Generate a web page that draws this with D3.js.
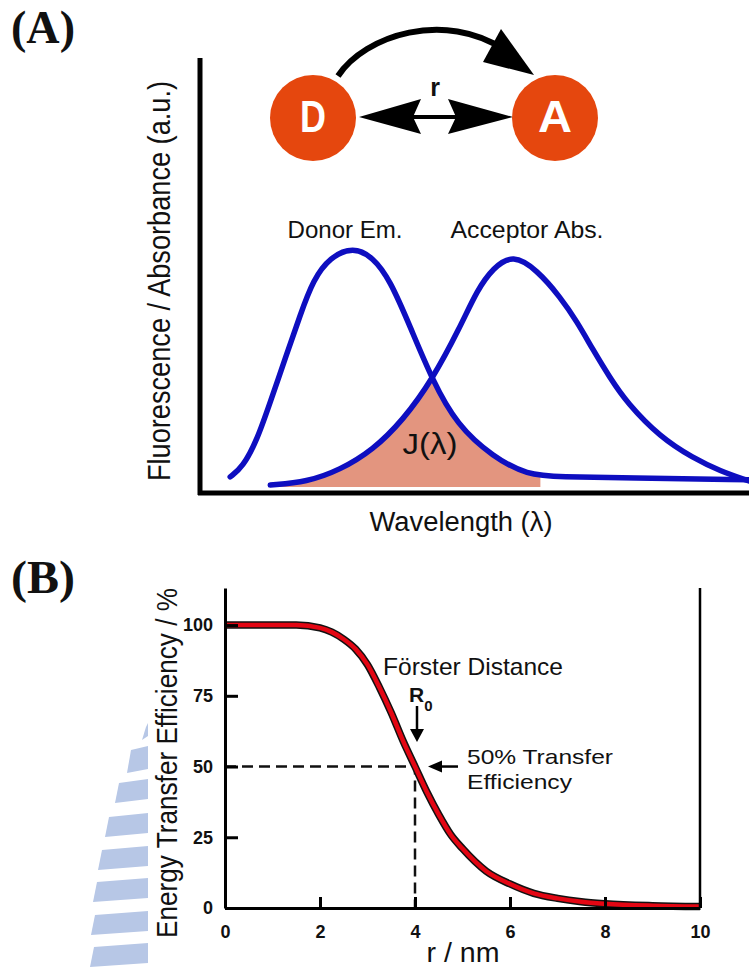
<!DOCTYPE html>
<html><head><meta charset="utf-8">
<script src="https://cdn.jsdelivr.net/npm/d3@7"></script>
<style>
body{margin:0;background:#fff}
svg{display:block}
text{font-family:"Liberation Sans",Arial,Helvetica,sans-serif;fill:#111}
</style>
</head><body>
<svg id="c" width="749" height="969"></svg>
<script>
// ---------- Panel A data (arbitrary wavelength units, normalised intensity) ----------
const donorWl = [5.5, 7.8, 10.4, 12.8, 15.8, 18.2, 20.6, 23.7, 27.9, 31.5, 34.6, 38.3, 42.3, 46.8, 53.4, 59.6, 65.6, 77.8, 100];
const donorEm = [0.042, 0.083, 0.196, 0.354, 0.554, 0.713, 0.863, 0.958, 1.0, 0.958, 0.863, 0.667, 0.446, 0.258, 0.125, 0.05, 0.042, 0.038, 0.03];
const accWl   = [12.8, 19.5, 25.5, 31.5, 37.0, 42.3, 47.4, 50.5, 53.4, 57.0, 61.4, 65.6, 68.7, 71.6, 74.7, 77.8, 83.8, 89.8, 94.7, 100];
const accAbs  = [0.008, 0.021, 0.071, 0.154, 0.279, 0.446, 0.667, 0.821, 0.913, 0.97, 0.904, 0.792, 0.688, 0.571, 0.454, 0.35, 0.208, 0.121, 0.067, 0.025];
const overlapFrom = 15, overlapTo = 62;

// ---------- Panel B data ----------
const distance   = [0, 0.5, 1, 1.5, 2, 2.25, 2.5, 2.75, 3, 3.25, 3.5, 3.75, 4, 4.25, 4.5, 4.75, 5, 5.5, 6, 6.5, 7, 7.5, 8, 9, 10];
const efficiency = [100, 100, 100, 100, 99, 97.5, 95, 91.5, 86, 78, 69, 59, 50, 41, 33, 26, 21, 13, 8.5, 5.2, 3.4, 2.2, 1.5, 0.8, 0.5];
const rTicks   = [0, 2, 4, 6, 8, 10];
const effTicks = [0, 25, 50, 75, 100];
const R0 = 4, halfEff = 50;

const svg = d3.select("#c");

// ---------- watermark (decoration) ----------
const wm = svg.append("g").attr("fill", "#B7C7E6");
const wmBars = [[727,740,142],[750,773,127],[783,803,115],[817,837,105],[850,870,98],[882,902,93],[915,935,91],[947,967,90]];
wmBars.forEach(([t,b,l]) => {
  wm.append("polygon").attr("points", `${l+4},${t} 148,${t-4} 148,${b-4} ${l},${b}`);
});

// ---------- Panel A ----------
const xA = d3.scaleLinear().domain([0, 100]).range([200, 749]);
const yA = d3.scaleLinear().domain([0, 1]).range([487, 247]);
const donor = donorWl.map((w,i) => [w, donorEm[i]]);
const acc = accWl.map((w,i) => [w, accAbs[i]]);
const curveA = d3.curveBasis;

const defs = svg.append("defs");
const areaA = d3.area().x(d => xA(d[0])).y0(yA(0)).y1(d => yA(d[1])).curve(curveA);
defs.append("clipPath").attr("id", "accClip").append("path").attr("d", areaA(acc));
const gFill = svg.append("g").attr("clip-path", "url(#accClip)");
gFill.append("path")
  .attr("d", areaA(donor.filter(d => d[0] >= overlapFrom - 10 && d[0] <= overlapTo + 8)))
  .attr("fill", "#E3957F");
svg.append("rect").attr("x", xA(overlapTo)).attr("y", yA(0.2)).attr("width", xA(100) - xA(overlapTo)).attr("height", yA(0) - yA(0.2) + 1).attr("fill", "#fff");

const lineA = d3.line().x(d => xA(d[0])).y(d => yA(d[1])).curve(curveA);
[donor, acc].forEach(s => svg.append("path").attr("d", lineA(s))
  .attr("fill", "none").attr("stroke", "#0E0EC0").attr("stroke-width", 5.5)
  .attr("stroke-linecap", "round").attr("stroke-linejoin", "round"));

svg.append("line").attr("x1", xA(0)).attr("x2", xA(0)).attr("y1", 58).attr("y2", yA(0) + 8)
  .attr("stroke", "#000").attr("stroke-width", 5);
svg.append("line").attr("x1", xA(0) - 2).attr("x2", xA(100)).attr("y1", yA(0) + 6).attr("y2", yA(0) + 6)
  .attr("stroke", "#000").attr("stroke-width", 5);

svg.append("text").attr("x", 345).attr("y", 238).attr("text-anchor", "middle")
  .attr("font-size", 24).attr("textLength", 115).attr("lengthAdjust", "spacingAndGlyphs").text("Donor Em.");
svg.append("text").attr("x", 527).attr("y", 238).attr("text-anchor", "middle")
  .attr("font-size", 24).attr("textLength", 153).attr("lengthAdjust", "spacingAndGlyphs").text("Acceptor Abs.");
svg.append("text").attr("x", 430).attr("y", 454).attr("text-anchor", "middle")
  .attr("font-size", 29).attr("textLength", 55).attr("lengthAdjust", "spacingAndGlyphs").text("J(λ)");

svg.append("text").attr("transform", "translate(170,281) rotate(-90)").attr("text-anchor", "middle")
  .attr("font-size", 31).attr("textLength", 400).attr("lengthAdjust", "spacingAndGlyphs")
  .text("Fluorescence / Absorbance (a.u.)");
svg.append("text").attr("x", 461).attr("y", 531).attr("text-anchor", "middle")
  .attr("font-size", 27).attr("textLength", 183).attr("lengthAdjust", "spacingAndGlyphs")
  .text("Wavelength (λ)");

svg.append("path").attr("d", "M338,76 C365,35 445,10 505,50")
  .attr("fill", "none").attr("stroke", "#000").attr("stroke-width", 6);
svg.append("polygon").attr("points", "534,75 501,29 483,62").attr("fill", "#000");
svg.append("line").attr("x1", 410).attr("x2", 458).attr("y1", 117).attr("y2", 117)
  .attr("stroke", "#000").attr("stroke-width", 4);
svg.append("polygon").attr("points", "359,117 421,99 413,117 421,134").attr("fill", "#000");
svg.append("polygon").attr("points", "513,117 448,99 456,117 448,134").attr("fill", "#000");
[[313, "D", 26], [555, "A", 34]].forEach(([cx, t, w]) => {
  svg.append("circle").attr("cx", cx).attr("cy", 118).attr("r", 43).attr("fill", "#E5470E");
  svg.append("text").attr("x", cx).attr("y", 132).attr("text-anchor", "middle")
    .attr("font-size", 45).attr("font-weight", "bold").style("fill", "#fff")
    .attr("textLength", w).attr("lengthAdjust", "spacingAndGlyphs").text(t);
});
svg.append("text").attr("x", 435).attr("y", 96).attr("text-anchor", "middle")
  .attr("font-size", 25).attr("font-weight", "bold").text("r");

[["(A)", 43], ["(B)", 593]].forEach(([t, y]) => {
  svg.append("text").attr("x", 11).attr("y", y).attr("font-size", 47).attr("font-weight", "bold")
    .style("font-family", "'Liberation Serif','Times New Roman',serif")
    .attr("textLength", 64).attr("lengthAdjust", "spacingAndGlyphs").text(t);
});

// ---------- Panel B ----------
const xB = d3.scaleLinear().domain([0, 10]).range([225, 700]);
const yB = d3.scaleLinear().domain([0, 113.1]).range([908, 588]);

svg.append("path")
  .attr("d", `M${xB(0)},${yB(halfEff)}H${xB(R0)}V${yB(0)}`)
  .attr("fill", "none").attr("stroke", "#111").attr("stroke-width", 2.5).attr("stroke-dasharray", "11,6");

const lineB = d3.line().x((d,i) => xB(distance[i])).y(d => yB(d)).curve(d3.curveMonotoneX);
svg.append("path").attr("d", lineB(efficiency)).attr("fill", "none")
  .attr("stroke", "#111").attr("stroke-width", 7.5);
svg.append("path").attr("d", lineB(efficiency)).attr("fill", "none")
  .attr("stroke", "#E30613").attr("stroke-width", 4.5);

const gx = svg.append("g").attr("transform", `translate(0,${yB(0)})`)
  .call(d3.axisBottom(xB).tickValues(rTicks).tickSizeInner(-11).tickSizeOuter(0).tickPadding(17));
const gy = svg.append("g").attr("transform", `translate(${xB(0)},0)`)
  .call(d3.axisLeft(yB).tickValues(effTicks).tickSizeInner(-13).tickSizeOuter(0).tickPadding(12));
[gx, gy].forEach(g => {
  g.attr("font-size", null).attr("font-family", null);
  g.selectAll("path.domain").attr("stroke", "#000").attr("stroke-width", 3);
  g.selectAll(".tick line").attr("stroke", "#000").attr("stroke-width", 3);
  g.selectAll(".tick text").style("font-size", "18px").style("font-weight", "bold")
    .style("font-family", "'Liberation Sans',Arial,sans-serif").style("fill", "#111");
});
svg.append("line").attr("x1", xB(10)).attr("x2", xB(10)).attr("y1", yB.range()[1]).attr("y2", yB(0))
  .attr("stroke", "#000").attr("stroke-width", 2.5);

svg.append("text").attr("transform", "translate(177,763) rotate(-90)").attr("text-anchor", "middle")
  .attr("font-size", 29).attr("textLength", 350).attr("lengthAdjust", "spacingAndGlyphs")
  .text("Energy Transfer Efficiency / %");
svg.append("text").attr("x", 463).attr("y", 962).attr("text-anchor", "middle")
  .attr("font-size", 28).attr("textLength", 73).attr("lengthAdjust", "spacingAndGlyphs").text("r / nm");

svg.append("text").attr("x", 383).attr("y", 675).attr("font-size", 24)
  .attr("textLength", 180).attr("lengthAdjust", "spacingAndGlyphs").text("Förster Distance");
const r0 = svg.append("text").attr("x", 409).attr("y", 702).attr("font-weight", "bold");
r0.append("tspan").attr("font-size", 21).text("R");
r0.append("tspan").attr("font-size", 15).attr("dy", 9).text("0");
svg.append("line").attr("x1", xB(R0) + 2).attr("x2", xB(R0) + 2).attr("y1", 706).attr("y2", 732)
  .attr("stroke", "#000").attr("stroke-width", 2.5);
svg.append("polygon").attr("points", `${xB(R0)-5},729 ${xB(R0)+9},729 ${xB(R0)+2},742`).attr("fill", "#000");
svg.append("line").attr("x1", 458).attr("x2", 438).attr("y1", yB(halfEff)).attr("y2", yB(halfEff))
  .attr("stroke", "#000").attr("stroke-width", 2.5);
svg.append("polygon").attr("points", `428,${yB(halfEff)} 442,${yB(halfEff)-6} 442,${yB(halfEff)+6}`).attr("fill", "#000");
svg.append("text").attr("x", 467).attr("y", 764).attr("font-size", 21)
  .attr("textLength", 146).attr("lengthAdjust", "spacingAndGlyphs").text("50% Transfer");
svg.append("text").attr("x", 467).attr("y", 789).attr("font-size", 21)
  .attr("textLength", 105).attr("lengthAdjust", "spacingAndGlyphs").text("Efficiency");
</script>
</body></html>
